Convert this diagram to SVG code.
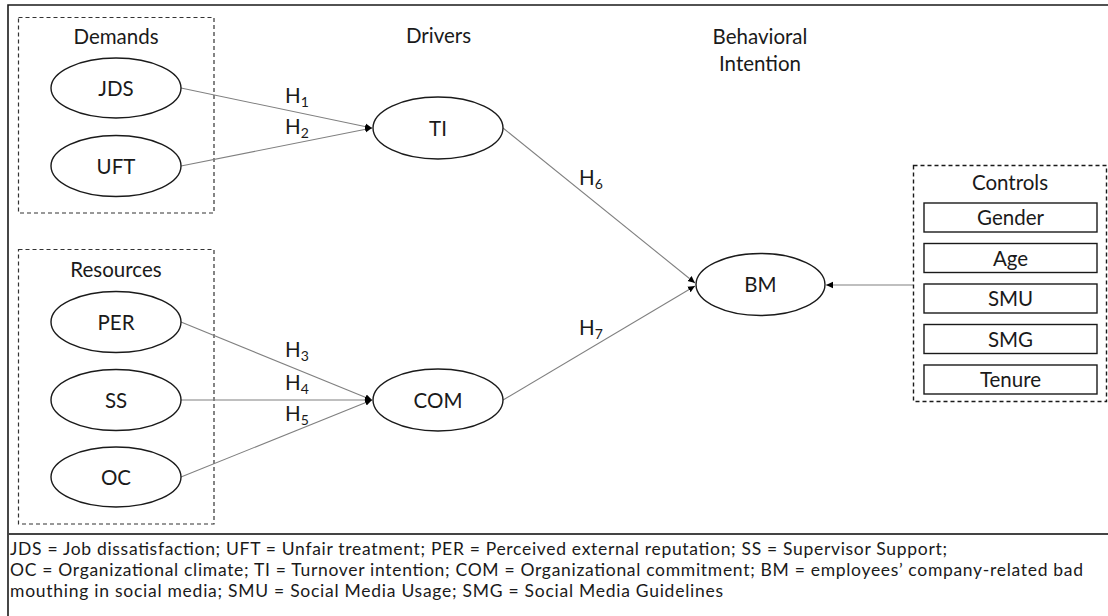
<svg xmlns="http://www.w3.org/2000/svg" width="1108" height="616" viewBox="0 0 1108 616">
<defs>
<marker id="ah" markerWidth="8" markerHeight="8" refX="7" refY="4" orient="auto" markerUnits="userSpaceOnUse">
<path d="M0,0.8 L7,4 L0,7.2 Z" fill="#000"/>
</marker>
<style>
text{font-family:Lato,"Open Sans","Liberation Sans",sans-serif;fill:#1a1a1a}
.lbl{font-size:20.5px;text-anchor:middle}
.hd{font-size:20.5px;text-anchor:middle}
.h{font-size:20.5px}
.sub{font-size:14px}
.leg{font-size:17.5px}
.node ellipse{fill:#fff;stroke:#1a1a1a;stroke-width:1.4}
.ctl rect{fill:#fff;stroke:#1a1a1a;stroke-width:1.4}
.dash{fill:none;stroke:#333;stroke-width:1.2;stroke-dasharray:4 3}
.conn line{stroke:#808080;stroke-width:1.1;marker-end:url(#ah)}
</style>
</defs>
<rect width="1108" height="616" fill="#fff"/>
<path d="M8,618 V5 H1110" fill="none" stroke="#1a1a1a" stroke-width="1.6"/>
<line x1="8" y1="534" x2="1108" y2="534" stroke="#444" stroke-width="2"/>

<g id="demands">
<rect class="dash" x="18.5" y="17.5" width="195.5" height="195.5"/>
<text class="hd" x="116" y="44">Demands</text>
</g>
<g id="resources">
<rect class="dash" x="18.5" y="249.5" width="195.5" height="274.5"/>
<text class="hd" x="116" y="277">Resources</text>
</g>
<g id="drivers"><text class="hd" x="438.5" y="43">Drivers</text></g>
<g id="behavioral"><text class="hd" x="760" y="44">Behavioral</text><text class="hd" x="760" y="71">Intention</text></g>

<g class="conn" id="connectors">
<line x1="181" y1="88" x2="372" y2="128"/>
<line x1="181" y1="166" x2="372" y2="128"/>
<line x1="181" y1="322" x2="372" y2="400"/>
<line x1="181" y1="400" x2="372" y2="400"/>
<line x1="181" y1="477" x2="372" y2="400"/>
<line x1="503" y1="128" x2="695" y2="283"/>
<line x1="503" y1="400" x2="695" y2="286"/>
<line x1="913" y1="285" x2="826" y2="285"/>
</g>

<g id="hlabels">
<text class="h" x="285" y="103">H<tspan class="sub" dy="4">1</tspan></text>
<text class="h" x="285" y="134">H<tspan class="sub" dy="4">2</tspan></text>
<text class="h" x="285" y="357">H<tspan class="sub" dy="4">3</tspan></text>
<text class="h" x="285" y="390">H<tspan class="sub" dy="4">4</tspan></text>
<text class="h" x="285" y="421">H<tspan class="sub" dy="4">5</tspan></text>
<text class="h" x="579" y="185">H<tspan class="sub" dy="4">6</tspan></text>
<text class="h" x="579" y="335">H<tspan class="sub" dy="4">7</tspan></text>
</g>

<g class="node" id="JDS"><ellipse cx="116" cy="88" rx="65" ry="30"/><text class="lbl" x="116" y="95.5">JDS</text></g>
<g class="node" id="UFT"><ellipse cx="116" cy="166" rx="65" ry="30.5"/><text class="lbl" x="116" y="173.5">UFT</text></g>
<g class="node" id="PER"><ellipse cx="116" cy="322" rx="65" ry="30.5"/><text class="lbl" x="116" y="329.5">PER</text></g>
<g class="node" id="SS"><ellipse cx="116" cy="400" rx="65" ry="30.5"/><text class="lbl" x="116" y="407.5">SS</text></g>
<g class="node" id="OC"><ellipse cx="116" cy="477" rx="65" ry="30"/><text class="lbl" x="116" y="484.5">OC</text></g>
<g class="node" id="TI"><ellipse cx="438" cy="128" rx="65" ry="31"/><text class="lbl" x="438" y="135.5">TI</text></g>
<g class="node" id="COM"><ellipse cx="438" cy="400" rx="65" ry="31"/><text class="lbl" x="438" y="407.5">COM</text></g>
<g class="node" id="BM"><ellipse cx="760.5" cy="284.5" rx="64.5" ry="31"/><text class="lbl" x="760.5" y="292">BM</text></g>

<g class="ctl" id="controls">
<rect class="dash" x="913.5" y="165.5" width="193" height="236"/>
<text class="hd" x="1010" y="190">Controls</text>
<rect x="924" y="203" width="173" height="29"/><text class="lbl" x="1010.5" y="225">Gender</text>
<rect x="924" y="243.5" width="173" height="29"/><text class="lbl" x="1010.5" y="265.5">Age</text>
<rect x="924" y="284" width="173" height="29"/><text class="lbl" x="1010.5" y="306">SMU</text>
<rect x="924" y="324.5" width="173" height="29"/><text class="lbl" x="1010.5" y="346.5">SMG</text>
<rect x="924" y="365" width="173" height="29"/><text class="lbl" x="1010.5" y="387">Tenure</text>
</g>

<g id="legend">
<text class="leg" x="10" y="554.5" textLength="937" lengthAdjust="spacing">JDS = Job dissatisfaction; UFT = Unfair treatment; PER = Perceived external reputation; SS = Supervisor Support;</text>
<text class="leg" x="10" y="575.5" textLength="1073" lengthAdjust="spacing">OC = Organizational climate; TI = Turnover intention; COM = Organizational commitment; BM = employees’ company-related bad</text>
<text class="leg" x="10" y="596.5" textLength="713" lengthAdjust="spacing">mouthing in social media; SMU = Social Media Usage; SMG = Social Media Guidelines</text>
</g>
</svg>
